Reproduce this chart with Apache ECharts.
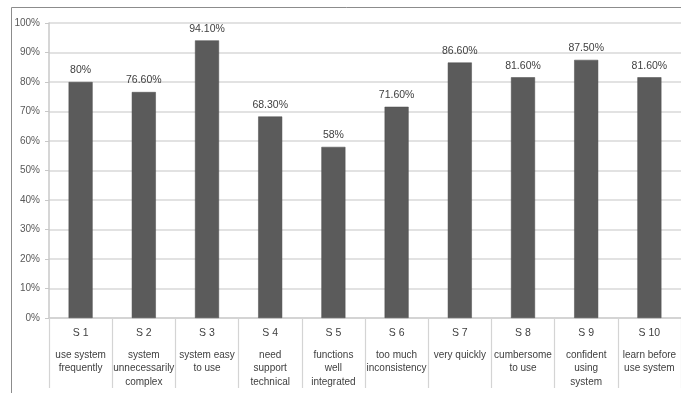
<!DOCTYPE html>
<html>
<head>
<meta charset="utf-8">
<script src="https://cdn.jsdelivr.net/npm/echarts@6/dist/echarts.min.js"></script>
<style>
  html, body { margin: 0; padding: 0; background: #fff; }
  #chart { width: 681px; height: 393px; }
</style>
</head>
<body>
<div id="chart"></div>
<script>
// Statement codes and their short descriptions
const codes = ['S 1', 'S 2', 'S 3', 'S 4', 'S 5', 'S 6', 'S 7', 'S 8', 'S 9', 'S 10'];
const descriptions = [
  'use system\nfrequently',
  'system\nunnecessarily\ncomplex',
  'system easy\nto use',
  'need\nsupport\ntechnical',
  'functions\nwell\nintegrated',
  'too much\ninconsistency',
  'very quickly',
  'cumbersome\nto use',
  'confident\nusing\nsystem',
  'learn before\nuse system'
];
// Percentage of agreement per statement
const values = [80, 76.6, 94.1, 68.3, 58, 71.6, 86.6, 81.6, 87.5, 81.6];
// Printed value labels
const valueLabels = ['80%', '76.60%', '94.10%', '68.30%', '58%', '71.60%', '86.60%', '81.60%', '87.50%', '81.60%'];

const font = '"Liberation Sans", Arial, sans-serif';
const chart = echarts.init(document.getElementById('chart'));

chart.setOption({
  animation: false,
  backgroundColor: '#ffffff',
  textStyle: { fontFamily: font },
  graphic: [{
    type: 'rect',
    shape: { x: 11.5, y: 7.5, width: 720, height: 420 },
    style: { fill: 'none', stroke: '#8c8c8c', lineWidth: 1 },
    silent: true
  }],
  grid: { left: 49, top: 23, width: 633, height: 295 },
  xAxis: {
    type: 'category',
    data: codes,
    axisLine: { lineStyle: { color: '#d0d0d0', width: 1.5 } },
    axisTick: { show: true, interval: 0, length: 70, lineStyle: { color: '#d4d4d4', width: 1.2 } },
    axisLabel: {
      interval: 0,
      margin: 0,
      formatter: function (v, i) {
        const lines = descriptions[i].split('\n').map(function (l) { return '{d|' + l + '}'; });
        return '{s|' + v + '}\n' + lines.join('\n');
      },
      rich: {
        s: { fontSize: 10.5, color: '#404040', lineHeight: 30, fontFamily: font },
        d: { fontSize: 10, color: '#404040', lineHeight: 13.5, fontFamily: font }
      }
    }
  },
  yAxis: {
    type: 'value',
    min: 0,
    max: 100,
    interval: 10,
    axisLine: { show: true, lineStyle: { color: '#c8c8c8', width: 1.5 } },
    axisTick: { show: true, length: 4, lineStyle: { color: '#c8c8c8' } },
    splitLine: { lineStyle: { color: '#d9d9d9', width: 1.5 } },
    axisLabel: {
      formatter: '{value}%',
      fontSize: 10,
      color: '#595959',
      margin: 9,
      fontFamily: font
    }
  },
  series: [{
    type: 'bar',
    data: values,
    barWidth: 24,
    itemStyle: { color: '#5b5b5b', borderColor: '#4a4a4a', borderWidth: 0.5 },
    label: {
      show: true,
      position: 'top',
      distance: 6,
      fontSize: 10.5,
      color: '#404040',
      fontFamily: font,
      formatter: function (p) { return valueLabels[p.dataIndex]; }
    }
  }]
});
</script>
</body>
</html>
